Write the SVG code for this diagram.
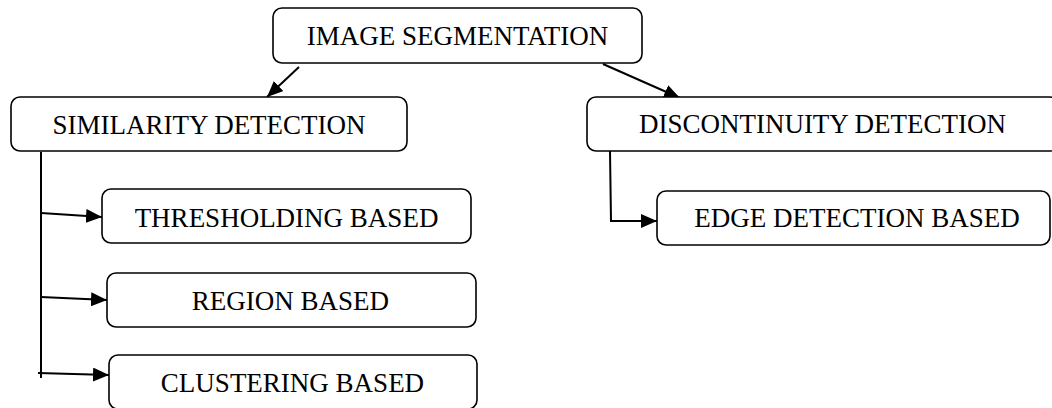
<svg xmlns="http://www.w3.org/2000/svg" width="1052" height="408" viewBox="0 0 1052 408">
<style>
.box{fill:#fff;stroke:#000;stroke-width:1.6}
.lbl{font-family:"Liberation Serif","Times New Roman",serif;font-size:27px;fill:#000;text-anchor:middle}
.con{fill:none;stroke:#000;stroke-width:2}
</style>
<defs>
<marker id="ah" markerUnits="userSpaceOnUse" markerWidth="16" markerHeight="14" refX="16" refY="7" orient="auto">
<path d="M0,0 L16,7 L0,14 z" fill="#000"/>
</marker>
</defs>
<rect width="1052" height="408" fill="#fff"/>
<g id="connectors">
<line class="con" x1="299" y1="67" x2="267" y2="97" marker-end="url(#ah)"/>
<line class="con" x1="603" y1="64" x2="680" y2="98" marker-end="url(#ah)"/>
<line class="con" x1="41" y1="152" x2="41" y2="378"/>
<line class="con" x1="41" y1="213" x2="102" y2="217" marker-end="url(#ah)"/>
<line class="con" x1="41" y1="297" x2="107" y2="300" marker-end="url(#ah)"/>
<line class="con" x1="38" y1="373" x2="109" y2="375" marker-end="url(#ah)"/>
<polyline class="con" points="610,151 611,221 657,221" marker-end="url(#ah)"/>
</g>
<g id="image-segmentation">
<rect class="box" x="273" y="8" width="369" height="55" rx="9"/>
<text class="lbl" x="457.5" y="45">IMAGE SEGMENTATION</text>
</g>
<g id="similarity-detection">
<rect class="box" x="11" y="97" width="396" height="54" rx="9"/>
<text class="lbl" x="209" y="134">SIMILARITY DETECTION</text>
</g>
<g id="discontinuity-detection">
<rect class="box" x="587" y="97" width="472" height="54" rx="9"/>
<text class="lbl" x="822.5" y="133">DISCONTINUITY DETECTION</text>
</g>
<g id="thresholding-based">
<rect class="box" x="102" y="189" width="369" height="54" rx="9"/>
<text class="lbl" x="286.5" y="227">THRESHOLDING BASED</text>
</g>
<g id="edge-detection-based">
<rect class="box" x="657" y="191" width="393" height="54" rx="9"/>
<text class="lbl" x="857" y="227">EDGE DETECTION BASED</text>
</g>
<g id="region-based">
<rect class="box" x="107" y="273" width="369" height="54" rx="9"/>
<text class="lbl" x="290.5" y="310">REGION BASED</text>
</g>
<g id="clustering-based">
<rect class="box" x="109" y="355" width="368" height="54" rx="9"/>
<text class="lbl" x="292.5" y="392">CLUSTERING BASED</text>
</g>
</svg>
